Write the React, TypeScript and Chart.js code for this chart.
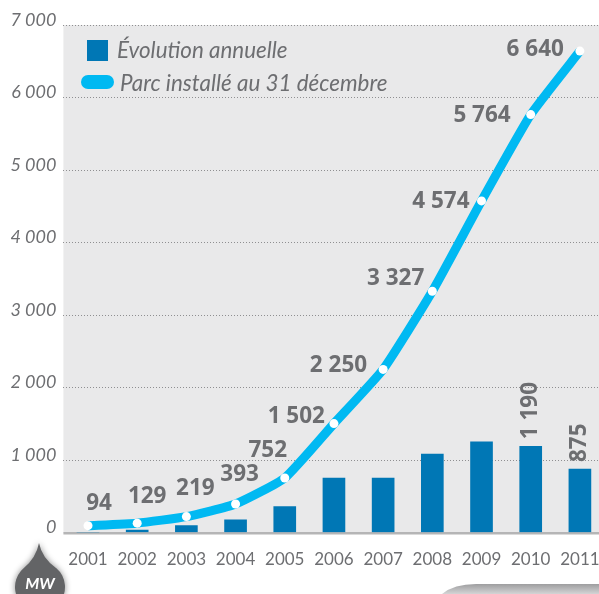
import { useEffect, useRef } from "react";
import { Chart, registerables } from "chart.js";

Chart.register(...registerables);

const years = ["2001", "2002", "2003", "2004", "2005", "2006", "2007", "2008", "2009", "2010", "2011"];
const annualValues = [0, 35, 97, 174, 359, 750, 750, 1080, 1250, 1190, 875];
const installedValues = [94, 129, 219, 393, 752, 1502, 2250, 3327, 4574, 5764, 6640];
const installedLabels = ["94", "129", "219", "393", "752", "1 502", "2 250", "3 327", "4 574", "5 764", "6 640"];
const annualLabelled = [{ year: "2010", value: 1190, text: "1 190" }, { year: "2011", value: 875, text: "875" }];
const legendAnnual = "Évolution annuelle";
const legendInstalled = "Parc installé au 31 décembre";
const unitLabel = "MW";

const GREY = "#6d6e71";
const BLUE = "#0077b5";
const CYAN = "#00b9f2";
// label placement relative to its point: [dx from point, dy from point, align]
const labelOffsets: [number, number, CanvasTextAlign][] = [
  [11, -22, "center"], [10, -27, "center"], [9, -28, "center"], [4, -29, "center"], [-17, -27, "center"],
  [-9, -7, "right"], [-16, -4, "right"], [-8, -13, "right"], [-12, 1, "right"], [-20, 1, "right"], [-16, -2, "right"],
];

const decor = {
  id: "decor",
  beforeDraw(chart: any) {
    const { ctx, chartArea: a } = chart;
    ctx.save();
    ctx.fillStyle = "#e9e9ea";
    ctx.fillRect(a.left, a.top, a.right - a.left, a.bottom - a.top);
    ctx.restore();
  },
  beforeDatasetsDraw(chart: any) {
    const { ctx, chartArea: a } = chart;
    ctx.save();
    ctx.fillStyle = "#b5b5b6";
    ctx.fillRect(a.left, a.bottom - 0.5, a.right - a.left, 2.5);
    ctx.restore();
  },
  afterDraw(chart: any) {
    const { ctx, scales } = chart;
    const x = scales.x, y = scales.y;
    ctx.save();
    ctx.textBaseline = "middle";
    ctx.fillStyle = GREY;
    ctx.font = "bold 22.5px 'Open Sans'";
    installedLabels.forEach((t, i) => {
      const [dx, dy, al] = labelOffsets[i];
      ctx.textAlign = al;
      ctx.fillText(t, x.getPixelForValue(i) + dx, y.getPixelForValue(installedValues[i]) + dy);
    });
    annualLabelled.forEach((d) => {
      ctx.save();
      ctx.translate(x.getPixelForValue(years.indexOf(d.year)), y.getPixelForValue(d.value) - 7);
      ctx.rotate(-Math.PI / 2);
      ctx.textAlign = "left";
      ctx.fillText(d.text, 0, 0);
      ctx.restore();
    });

    // legend
    ctx.fillStyle = BLUE;
    ctx.fillRect(87, 40, 21, 21);
    ctx.fillStyle = CYAN;
    ctx.beginPath();
    ctx.roundRect(81, 75, 33, 14, 7);
    ctx.fill();
    ctx.fillStyle = GREY;
    ctx.textAlign = "left";
    ctx.font = "italic 22.4px Lato";
    ctx.fillText(legendAnnual, 117, 51);
    ctx.fillText(legendInstalled, 120, 84);

    // unit drop
    ctx.save();
    ctx.shadowColor = "rgba(0,0,0,0.45)";
    ctx.shadowBlur = 6;
    ctx.fillStyle = "#636466";
    ctx.beginPath();
    ctx.moveTo(39, 543);
    ctx.quadraticCurveTo(42, 558, 56, 568);
    ctx.arc(40, 587, 25, -0.87, Math.PI + 0.87, false);
    ctx.quadraticCurveTo(36, 558, 39, 543);
    ctx.fill();
    ctx.restore();
    ctx.fillStyle = "#ffffff";
    ctx.textAlign = "center";
    ctx.font = "italic bold 16px Lato";
    ctx.fillText(unitLabel, 40, 584);

    // corner box
    const g = ctx.createLinearGradient(0, 583, 0, 594);
    g.addColorStop(0, "#98989a");
    g.addColorStop(1, "#d4d4d5");
    ctx.fillStyle = g;
    ctx.beginPath();
    ctx.moveTo(442, 594);
    ctx.quadraticCurveTo(454, 584, 476, 584);
    ctx.lineTo(610, 584);
    ctx.lineTo(610, 594);
    ctx.closePath();
    ctx.fill();
    ctx.restore();
  },
};

export default function App() {
  const ref = useRef<HTMLCanvasElement>(null);
  useEffect(() => {
    document.body.style.margin = "0";
    const chart = new Chart(ref.current!, {
      type: "bar",
      plugins: [decor],
      data: {
        labels: years,
        datasets: [
          {
            type: "line",
            data: installedValues,
            borderColor: CYAN,
            borderWidth: 9,
            borderCapStyle: "butt",
            tension: 0.15,
            pointRadius: 4.5,
            pointBackgroundColor: "#ffffff",
            pointBorderWidth: 0,
            clip: false,
            order: 1,
          },
          { type: "bar", data: annualValues, backgroundColor: BLUE, barThickness: 22, order: 2 },
        ],
      } as any,
      options: {
        animation: false,
        responsive: false,
        layout: { padding: { top: 25, left: 0, right: 0, bottom: 0 } },
        plugins: { legend: { display: false }, tooltip: { enabled: false } },
        scales: {
          x: {
            grid: { display: false },
            border: { display: false },
            afterFit(s: any) { s.height = 61.5; },
            ticks: { color: GREY, font: { family: "Lato", size: 17 }, padding: 9, maxRotation: 0, autoSkip: false },
          },
          y: {
            min: 0,
            max: 7000,
            afterFit(s: any) { s.width = 63.4; },
            border: { display: false, dash: [1, 2] },
            grid: {
              drawTicks: false,
              color: (c: any) => (c.tick.value === 0 ? "rgba(0,0,0,0)" : "#8f8f91"),
              lineWidth: 1,
            } as any,
            ticks: {
              stepSize: 1000,
              color: GREY,
              padding: 7,
              labelOffset: -5,
              font: { family: "Lato", size: 18, style: "italic" },
              callback: (v: any) => String(v).replace(/\B(?=(\d{3})+$)/g, " "),
            } as any,
          },
        },
      } as any,
    });
    return () => chart.destroy();
  }, []);
  return (
    <div style={{ width: 599, height: 594, overflow: "hidden", position: "relative" }}>
      <canvas ref={ref} width={609} height={594} style={{ display: "block", width: 609, height: 594 }} />
    </div>
  );
}
